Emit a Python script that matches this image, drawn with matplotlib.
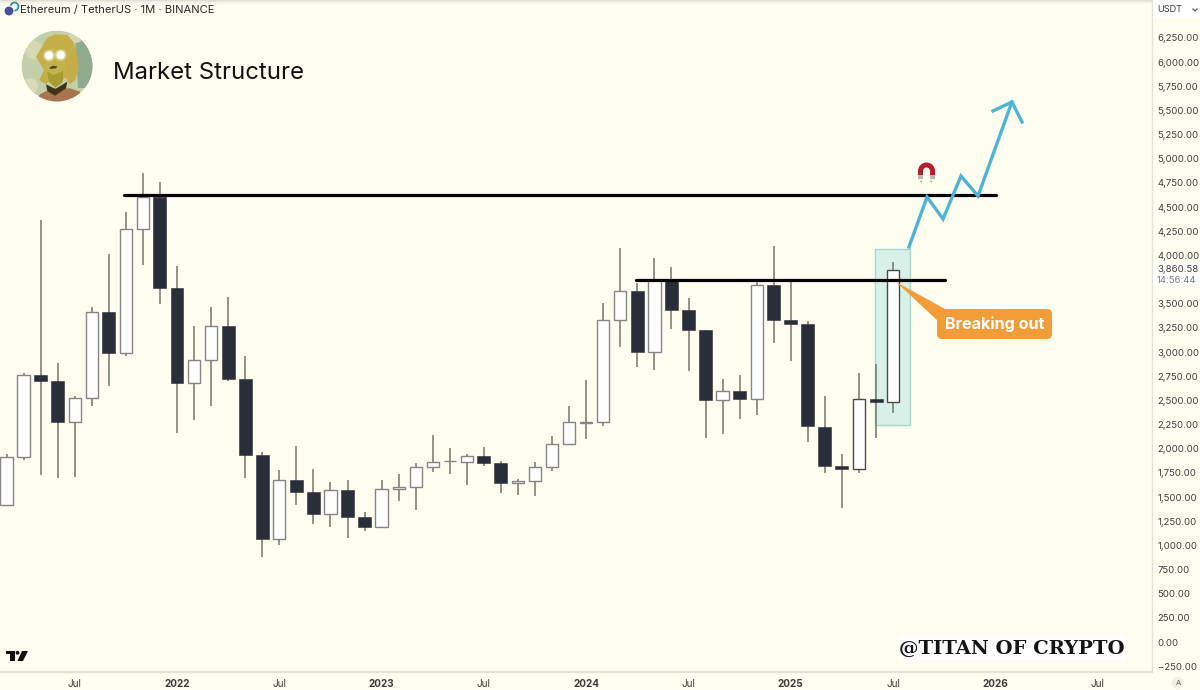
import numpy as np
import matplotlib
matplotlib.use('Agg')
import matplotlib.pyplot as plt
from matplotlib.patches import Circle, Rectangle, Polygon, Wedge, FancyBboxPatch

BG = '#fffdf0'
DARK = '#2a2e39'
FONT = ['Inter', 'DejaVu Sans']

# monthly candles, month 0 = Jan 2022
months = np.arange(-10, 43)
opens = [1418, 1914, 2763, 2701, 2277, 2525, 3415, 2991, 4274, 4605,
         3663, 2680, 2918, 3270, 2722, 1935, 1066, 1676, 1552, 1325,
         1573, 1294, 1190, 1583, 1604, 1811, 1870, 1863, 1925, 1852,
         1645, 1666, 1811, 2049, 2270, 2277, 3332, 3632, 3001, 3736,
         3436, 3229, 2504, 2597, 2515, 3694, 3332, 3291, 2225, 1821,
         1790, 2515, 2484]
highs = [1945, 2784, 4367, 2887, 2546, 3467, 4015, 4450, 4853, 4760,
         3891, 3270, 3467, 3570, 2960, 1966, 1780, 2028, 1790, 1656,
         1676, 1345, 1676, 1738, 1852, 2142, 2008, 1945, 2018, 1873,
         1687, 1863, 2132, 2442, 2711, 3508, 4077, 3715, 3974, 3880,
         3560, 3229, 2722, 2763, 3725, 4098, 3746, 3322, 2546, 1945,
         2784, 2877, 3932]
lows = [1407, 1883, 1728, 1697, 1707, 2442, 2649, 2960, 3901, 3498,
        2163, 2297, 2442, 2701, 1697, 880, 1004, 1418, 1221, 1190,
        1076, 1149, 1190, 1459, 1366, 1759, 1738, 1625, 1821, 1542,
        1521, 1511, 1770, 2049, 2101, 2235, 3053, 2846, 2815, 3239,
        2804, 2111, 2152, 2308, 2349, 3094, 2908, 2070, 1749, 1387,
        1749, 2111, 2370]
closes = [1914, 2763, 2701, 2277, 2525, 3415, 2991, 4274, 4605, 3663,
          2680, 2918, 3270, 2722, 1935, 1066, 1676, 1552, 1325, 1573,
          1294, 1190, 1583, 1604, 1811, 1863, 1873, 1925, 1852, 1645,
          1666, 1811, 2049, 2277, 2277, 3332, 3632, 3001, 3746, 3436,
          3229, 2504, 2597, 2515, 3694, 3332, 3291, 2235, 1821, 1790,
          2515, 2484, 3849]

# drawings
top_level = 4626
top_level_span = [-3.11, 48.03]
mid_level = 3746
mid_level_span = [26.92, 45.04]
box_months = [40.94, 42.99]
box_prices = [2245, 4067]
path_months = [42.93, 43.99, 44.93, 45.98, 46.98, 48.97]
path_prices = [4087, 4605, 4377, 4822, 4615, 5588]
head_months = [47.86, 48.97, 49.56]
head_prices = [5495, 5588, 5381]

price_ticks = [-250, 0, 250, 500, 750, 1000, 1250, 1500, 1750, 2000, 2250, 2500,
               2750, 3000, 3250, 3500, 4000, 4250, 4500, 4750, 5000, 5250,
               5500, 5750, 6000, 6250]
time_ticks = [-6, 0, 6, 12, 18, 24, 30, 36, 42, 48, 54]
time_labels = ['Jul', '2022', 'Jul', '2023', 'Jul', '2024', 'Jul', '2025', 'Jul', '2026', 'Jul']

fig = plt.figure(figsize=(12, 6.9), dpi=100, facecolor=BG)
ax = fig.add_axes([0, 18 / 690, 1152 / 1200, 672 / 690], facecolor=BG)
ax.set_xlim((0 - 177) / 17.05, (1152 - 177) / 17.05)
ax.set_ylim(-310, 6643)

# candles
ax.add_patch(Rectangle((box_months[0], box_prices[0]), box_months[1] - box_months[0],
                       box_prices[1] - box_prices[0], fc='#d9f0e8', ec='#a3d8cf', lw=1, zorder=1))
ax.vlines(months, lows, highs, color='#74766c', lw=1.1, zorder=2)
for m, o, c in zip(months, opens, closes):
    up = c >= o
    lo, hi = min(o, c), max(o, c)
    if up:
        ec = '#4a4a4a' if m >= 40 else '#858585'
        ax.bar(m, hi - lo, bottom=lo, width=0.72, color='white', edgecolor=ec, lw=1.0, zorder=3)
    else:
        ax.bar(m, hi - lo, bottom=lo, width=0.76, color=DARK, edgecolor=DARK, lw=0.4, zorder=3)

ax.plot(top_level_span, [top_level, top_level], color='black', lw=2.3, solid_capstyle='round', zorder=4)
ax.plot(mid_level_span, [mid_level, mid_level], color='black', lw=2.3, solid_capstyle='round', zorder=4)
ax.plot(path_months, path_prices, color='#4fb3d4', lw=2.4, solid_joinstyle='miter', zorder=5)
ax.plot(head_months, head_prices, color='#4fb3d4', lw=2.4, solid_joinstyle='miter', zorder=5)

# axes
for s in ['top', 'left']:
    ax.spines[s].set_visible(False)
ax.spines['right'].set_color('#e4e2d6')
ax.spines['right'].set_linewidth(1)
ax.spines['bottom'].set_color('#e4e2d6')
ax.spines['bottom'].set_linewidth(1.6)
ax.yaxis.tick_right()
ax.set_yticks(price_ticks)
ax.set_yticklabels([f'{p:,.2f}'.replace('-', '\u2212') for p in price_ticks],
                   family=FONT, fontsize=6.9, color='#3c3c3c')
ax.tick_params(axis='y', length=0, pad=4)
ax.set_xticks(time_ticks)
ax.set_xticklabels(time_labels, family=FONT, fontsize=7.2, color='#3c3c3c')
for t, s in zip(ax.get_xticklabels(), time_labels):
    if s != 'Jul':
        t.set_fontweight('bold')
ax.tick_params(axis='x', length=0, pad=5)

# overlay in pixel coordinates for the picture furniture
ov = fig.add_axes([0, 0, 1, 1], facecolor='none')
ov.set_xlim(0, 1200)
ov.set_ylim(690, 0)
ov.axis('off')

for i, a in enumerate([0.22, 0.14, 0.07, 0.03]):
    ov.add_patch(Rectangle((0, i), 1152, 1, fc='#777777', ec='none', alpha=a))
ov.add_patch(Rectangle((1153, 0), 47, 18, fc='white', ec='none'))
ov.text(1157, 10, 'USDT', family=FONT, fontsize=6.6, color='#3c3c3c', va='center')
ov.plot([1193, 1195, 1197], [9, 11, 9], color='#555555', lw=0.9)
ov.add_patch(Rectangle((1153, 263), 47, 23, fc='white', ec='none'))
ov.text(1157, 270, '3,860.58', family=FONT, fontsize=6.9, color='#3c3c3c', va='center')
ov.text(1157, 280.5, '14:56:44', family=FONT, fontsize=6.9, color='#777a80', va='center')
ov.add_patch(Circle((1178, 683), 6, fc='#f1efe4', ec='none'))
ov.text(1178, 683, 'A', family=FONT, fontsize=5.5, color='#555555', ha='center', va='center')

# header
ov.add_patch(Circle((14.5, 6.5), 4, fc='none', ec='#2f93a8', lw=1.3))
ov.add_patch(Circle((9, 11), 5, fc='#48509c', ec=BG, lw=0.8))
ov.text(20, 10, 'Ethereum / TetherUS \u00b7 1M \u00b7 BINANCE', family=FONT, fontsize=8.05,
        color='#2b2b2b', va='center')
ov.text(113, 73, 'Market Structure', family=FONT, fontsize=17.2, color='#111111', va='center')

# avatar
clip = Circle((57, 66), 35.5, transform=ov.transData)
def av(p):
    p.set_clip_path(clip)
    ov.add_patch(p)
    return p
def pts(*xy):
    return [(10 + x / 3, 25 + y / 3) for x, y in xy]
av(Circle((57, 66), 35.5, fc='#c3cfa8', ec='none'))
av(Polygon(pts((195, 40), (260, 40), (260, 190), (205, 190)), fc='#8faa8d', ec='none'))
av(Circle((34, 50), 9, fc='#d4d9b4', ec='none'))
av(Circle((30, 86), 8, fc='#d8dab8', ec='none'))
av(Circle((76, 36), 7, fc='#d4d6b2', ec='none'))
av(Polygon(pts((70, 240), (90, 208), (125, 190), (180, 190), (210, 200), (230, 240)), fc='#a8744e', ec='none'))
# hair
av(Polygon(pts((78, 95), (98, 62), (112, 38), (135, 28), (172, 30), (190, 50), (200, 85),
               (206, 125), (196, 165), (180, 178), (168, 160), (125, 160), (108, 178), (88, 165), (102, 135)),
           fc='#c6ad47', ec='none'))
# face
av(Polygon(pts((106, 80), (130, 68), (166, 72), (168, 125), (160, 165), (135, 185), (114, 165), (108, 125)),
           fc='#c2b44a', ec='none'))
# beard and shadow under the chin
av(Polygon(pts((112, 140), (130, 150), (160, 138), (158, 172), (136, 188), (116, 170)), fc='#a89c30', ec='none'))
av(Polygon(pts((108, 178), (136, 192), (172, 170), (168, 190), (135, 212), (112, 198)), fc='#3f3317', ec='none'))
av(Polygon(pts((118, 128), (128, 122), (142, 124), (138, 130), (122, 132)), fc='#4c4a20', ec='none'))
for ex, ey in [(49, 55.5), (60.7, 55)]:
    av(Circle((ex, ey), 6, fc='white', ec='none', alpha=0.35))
    av(Circle((ex, ey), 4.2, fc='white', ec='none'))

# magnet
ov.add_patch(Wedge((926.5, 171), 8.5, 180, 360, width=5, fc='#b2202e', ec='none'))
ov.add_patch(Rectangle((918, 171), 5, 4, fc='#b2202e', ec='none'))
ov.add_patch(Rectangle((930, 171), 5, 4, fc='#b2202e', ec='none'))
ov.add_patch(Rectangle((918, 175), 5, 4, fc='#b9b9b9', ec='none'))
ov.add_patch(Rectangle((930, 175), 5, 4, fc='#b9b9b9', ec='none'))
ov.add_patch(Circle((921, 181.5), 1, fc='#f0a860', ec='none'))
ov.add_patch(Circle((931, 181.5), 1, fc='#f0a860', ec='none'))

# callout
ov.add_patch(Polygon([(896, 282), (945, 309), (937, 320)], fc='#f29c38', ec='none'))
ov.add_patch(FancyBboxPatch((940, 312), 109, 24, boxstyle='round,pad=3,rounding_size=5',
                            fc='#f29c38', ec='none'))
ov.text(994.5, 324, 'Breaking out', family=FONT, fontsize=11.6, fontweight='bold',
        color='white', ha='center', va='center')

# watermark and logo
ov.add_patch(Rectangle((898, 636), 228, 25, fc='white', ec='none'))
ov.text(1011.5, 649, '@TITAN OF CRYPTO', family='DejaVu Serif', fontsize=14, fontweight='bold',
        color='#151515', ha='center', va='center')
ov.add_patch(Polygon([(6, 651), (15, 651), (15, 661), (10, 661), (10, 654), (6, 654)], fc='#111111', ec='none'))
ov.add_patch(Circle((17.5, 652.8), 1.9, fc='#111111', ec='none'))
ov.add_patch(Polygon([(22, 651), (28, 651), (23, 661), (17.5, 661)], fc='#111111', ec='none'))

fig.savefig('out.png', dpi=100, facecolor=BG)
